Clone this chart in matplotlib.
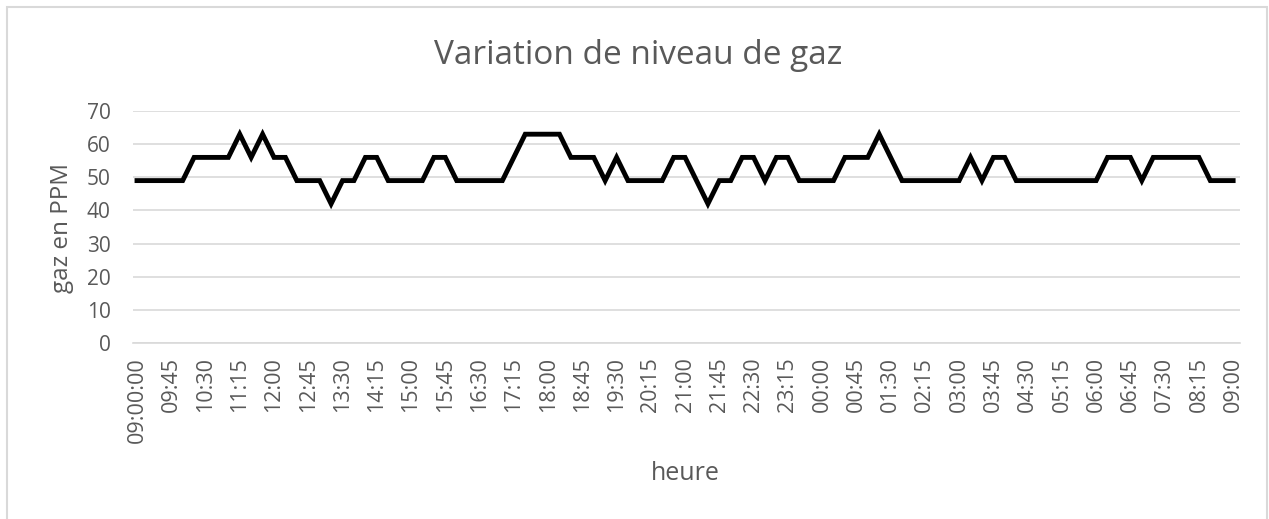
import numpy as np
import matplotlib.pyplot as plt
from matplotlib.patches import Rectangle

plt.rcParams['font.family'] = ['Open Sans', 'DejaVu Sans']

# gas level every 15 min, 09:00 -> 09:00 next day
gaz_ppm = [49, 49, 49, 49, 49, 56, 56, 56, 56, 63,
           56, 63, 56, 56, 49, 49, 49, 42, 49, 49,
           56, 56, 49, 49, 49, 49, 56, 56, 49, 49,
           49, 49, 49, 56, 63, 63, 63, 63, 56, 56,
           56, 49, 56, 49, 49, 49, 49, 56, 56, 49,
           42, 49, 49, 56, 56, 49, 56, 56, 49, 49,
           49, 49, 56, 56, 56, 63, 56, 49, 49, 49,
           49, 49, 49, 56, 49, 56, 56, 49, 49, 49,
           49, 49, 49, 49, 49, 56, 56, 56, 49, 56,
           56, 56, 56, 56, 49, 49, 49]

tick_labels = ["09:00:00", "09:45", "10:30", "11:15", "12:00", "12:45", "13:30",
               "14:15", "15:00", "15:45", "16:30", "17:15", "18:00", "18:45",
               "19:30", "20:15", "21:00", "21:45", "22:30", "23:15", "00:00",
               "00:45", "01:30", "02:15", "03:00", "03:45", "04:30", "05:15",
               "06:00", "06:45", "07:30", "08:15", "09:00"]
tick_step = 3

txt = "#595959"
grid = "#d9d9d9"

x = np.arange(len(gaz_ppm))

fig = plt.figure(figsize=(12.69, 5.19), dpi=100)
ax = fig.add_axes([133 / 1269, 1 - 343 / 519, (1240 - 133) / 1269, (343 - 111) / 519])

ax.plot(x, gaz_ppm, color="black", linewidth=3.5, solid_joinstyle="miter")

ax.set_ylim(0, 70)
ax.set_yticks(range(0, 71, 10))
ax.set_xlim(-0.35, len(gaz_ppm) - 1 + 0.6)
ax.set_xticks(x[::tick_step])
ax.set_xticklabels(tick_labels, rotation=90, fontsize=15.5, color=txt)
ax.tick_params(axis="y", labelsize=15, colors=txt, length=0, pad=16)
ax.tick_params(axis="x", length=0, pad=10)

ax.grid(axis="y", color=grid, linewidth=1.2)
ax.set_axisbelow(True)
for s in ["top", "right", "left"]:
    ax.spines[s].set_visible(False)
ax.spines["bottom"].set_color(grid)
ax.spines["bottom"].set_linewidth(1.2)

fig.text(638 / 1269, 1 - 56 / 519, "Variation de niveau de gaz", ha="center", va="center",
         fontsize=24, color=txt)
fig.text(62 / 1269, 1 - 228 / 519, "gaz en PPM", ha="center", va="center",
         rotation=90, fontsize=17.5, color=txt)
fig.text(685 / 1269, 1 - 474 / 519, "heure", ha="center", va="center",
         fontsize=18, color=txt)

# chart border
fig.patches.append(Rectangle((7 / 1269, -0.01), 1260 / 1269, 1 - 7 / 519 + 0.01,
                             transform=fig.transFigure, fill=False,
                             edgecolor="#d9d9d9", linewidth=1.5))

fig.savefig("out.png", dpi=100)
